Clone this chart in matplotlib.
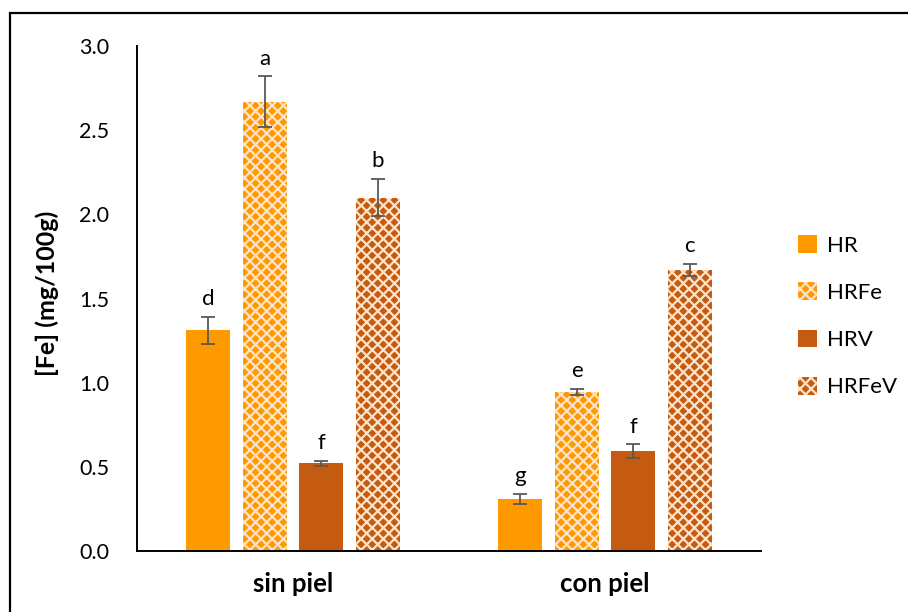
import numpy as np
import matplotlib.pyplot as plt
from matplotlib.patches import Rectangle, Patch

plt.rcParams['font.family'] = ['Lato', 'DejaVu Sans']
plt.rcParams['hatch.linewidth'] = 1.6

# data
groups = ['sin piel', 'con piel']
series = ['HR', 'HRFe', 'HRV', 'HRFeV']
values = {
    'HR':    [1.31, 0.31],
    'HRFe':  [2.67, 0.945],
    'HRV':   [0.52, 0.595],
    'HRFeV': [2.10, 1.67],
}
errors = {
    'HR':    [0.08, 0.03],
    'HRFe':  [0.15, 0.02],
    'HRV':   [0.015, 0.04],
    'HRFeV': [0.11, 0.035],
}
letters = {
    'HR':    ['d', 'g'],
    'HRFe':  ['a', 'e'],
    'HRV':   ['f', 'f'],
    'HRFeV': ['b', 'c'],
}

colors = {'HR': '#FF9900', 'HRFe': '#FF9900', 'HRV': '#C55A11', 'HRFeV': '#C55A11'}
hatches = {'HR': None, 'HRFe': 'xxx', 'HRV': None, 'HRFeV': 'xxx'}

fig = plt.figure(figsize=(9.08, 6.12), dpi=100)
ax = fig.add_axes([0.1509, 0.0997, 0.6872, 0.8251])

x = np.arange(len(groups))
step = 0.181
width = 0.141
offsets = (np.arange(len(series)) - 1.5) * step

for i, s in enumerate(series):
    h = hatches[s]
    ec = '#FCE3C9' if h else colors[s]
    ax.bar(x + offsets[i], values[s], width, color=colors[s],
           edgecolor=ec, linewidth=0, hatch=h, label=s)
    ax.errorbar(x + offsets[i], values[s], yerr=errors[s], fmt='none',
                ecolor='#595959', elinewidth=1.3, capsize=5, capthick=1.3)
    for xi, v, e, t in zip(x + offsets[i], values[s], errors[s], letters[s]):
        ax.text(xi, v + e + 0.045, t, ha='center', va='bottom', fontsize=16)

ax.set_xlim(-0.5, 1.5)
ax.set_ylim(0, 3.0)
ticks = np.arange(0, 3.01, 0.5)
ax.set_yticks(ticks)
ax.set_yticklabels([f'{t:.1f}' for t in ticks])
ax.set_xticks(x)
ax.set_xticklabels(groups, fontweight='bold', fontsize=18.5)
ax.tick_params(axis='y', length=0, pad=20, labelsize=15.5)
ax.tick_params(axis='x', length=0, pad=15)
ax.set_ylabel('[Fe] (mg/100g)', fontweight='bold', fontsize=18)
ax.yaxis.set_label_coords(-0.125, 0.51)

for side in ['top', 'right']:
    ax.spines[side].set_visible(False)
for side in ['left', 'bottom']:
    ax.spines[side].set_linewidth(1.4)

handles = [Patch(facecolor=colors[s], edgecolor='#FCE3C9' if hatches[s] else colors[s],
                 linewidth=0, hatch=hatches[s]) for s in series]
ax.legend(handles, series, loc='upper left', bbox_to_anchor=(1.027, 0.665),
          frameon=False, fontsize=16, labelspacing=1.2,
          handlelength=0.85, handleheight=0.85, handletextpad=0.45)

# outer frame around the chart area
fig.patches.append(Rectangle((10 / 908, -0.1), 1.2, 1.1 - 13 / 612,
                             transform=fig.transFigure, fill=False,
                             edgecolor='black', linewidth=1.6))

fig.savefig('out.png', dpi=100)
